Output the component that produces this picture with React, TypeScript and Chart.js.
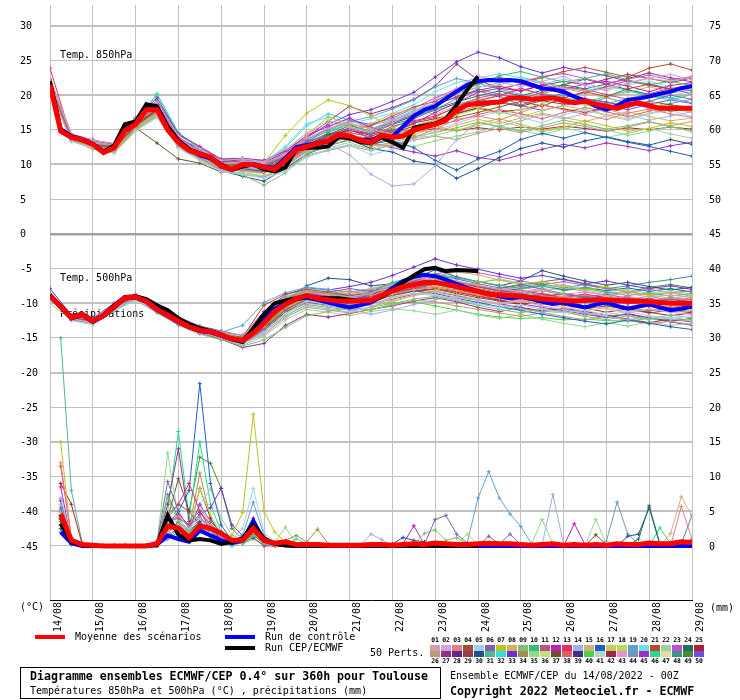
import React, { useEffect, useRef } from 'react';
import { Chart, registerables } from 'chart.js';
Chart.register(...registerables);

// ---------- axis / labels ----------
const DAY_LABELS = ['14/08','15/08','16/08','17/08','18/08','19/08','20/08','21/08','22/08','23/08','24/08','25/08','26/08','27/08','28/08','29/08'];
const LEFT_TICKS = [30,25,20,15,10,5,0,-5,-10,-15,-20,-25,-30,-35,-40,-45];
const RIGHT_TICKS = [75,70,65,60,55,50,45,40,35,30,25,20,15,10,5,0];
const PERT_COLORS = ['#d4a0a8','#d4a0e0','#e08088','#a05030','#a0d0f0','#8060b0','#c0c020','#d8b060','#80c070','#30c070',
 '#c05080','#c020b0','#e03060','#a0b0e0','#d0b080','#2060c0','#c8c860','#b0e050','#60a0d8','#70e0e8',
 '#c04830','#a0d0a0','#c050d0','#207060','#b02030',
 '#c09878','#903080','#602880','#904050','#205090','#50b890','#30e0e0','#7030d0','#a09050','#90d890',
 '#c0e080','#705030','#e06060','#403080','#50d040','#b0d8c8','#a02840','#e890d0','#7098b8','#a030c0',
 '#20e090','#e0e0a0','#409090','#508830','#7050e0'];

// ---------- 850 hPa (6-hourly from 0h) ----------
const T850_MEAN = [21.5,14.8,13.9,13.6,12.9,11.7,12.4,14.9,15.8,17.9,17.9,15.0,13.2,12.0,11.5,11.1,9.8,9.3,10.0,10.0,9.6,9.3,10.6,12.2,12.6,13.0,13.4,14.3,14.1,13.5,13.2,14.2,13.9,14.1,15.0,15.4,15.8,16.4,17.8,18.6,18.8,18.9,19.0,19.6,19.6,19.4,19.5,19.6,19.2,18.9,19.1,18.7,18.4,18.1,18.6,18.9,18.5,18.1,18.1,18.1,18.1];
const T850_CEP = [22.0,15.0,14.0,13.5,13.0,11.8,12.8,15.8,16.2,18.7,18.4,15.5,13.5,12.2,11.6,11.0,10.0,9.3,9.7,10.0,9.3,9.0,9.6,12.2,12.4,12.4,12.6,14.0,13.8,13.2,13.1,13.9,13.2,12.4,15.3,15.6,15.9,16.6,18.6,20.8,22.7];
const T850_CTRL = [21.7,15.1,14.1,13.7,13.0,11.9,12.5,15.2,16.0,18.2,18.0,15.2,13.4,12.1,11.3,10.9,9.7,9.2,9.8,10.1,9.7,9.5,10.9,12.5,12.8,13.1,13.3,14.0,13.9,13.6,13.5,14.2,14.0,15.5,17.0,17.9,18.4,19.5,20.5,21.5,22.0,22.2,22.1,22.2,22.0,21.5,21.0,20.8,20.5,19.8,19.2,18.4,17.9,18.5,19.3,19.5,19.8,20.2,20.5,21.0,21.3];

// 850 hPa members (12-hourly from 0h)
const T850_M01 = [22.0,14.2,13.3,12.8,16.2,18.5,13.8,11.9,10.1,10.4,10.2,11.5,13.8,15.2,16.0,15.1,16.4,17.3,18.8,20.1,21.2,21.5,22.3,21.8,21.0,20.6,20.9,21.7,22.4,22.0,22.6];
const T850_M02 = [22.4,14.4,13.5,13.0,16.6,19.0,14.2,12.3,10.6,10.8,10.4,12.2,14.5,16.0,15.3,14.8,16.0,17.5,19.4,21.0,22.8,21.9,21.2,22.0,22.7,21.4,20.6,21.8,22.5,23.0,22.2];
const T850_M03 = [21.0,13.6,12.6,12.0,15.4,17.6,12.8,11.0,9.4,9.2,8.8,9.9,12.0,13.8,14.5,13.0,12.6,13.9,15.1,16.5,17.0,16.4,17.5,18.6,17.9,17.2,16.5,17.4,18.0,17.3,16.8];
const T850_M04 = [21.3,13.9,12.9,12.4,15.6,17.8,13.2,11.6,9.9,9.9,9.6,10.5,12.7,14.0,13.6,12.8,13.9,14.6,15.9,16.8,17.5,18.3,19.1,18.4,19.6,20.5,19.8,20.9,21.6,20.8,21.4];
const T850_M05 = [20.5,13.3,12.4,11.6,14.8,16.9,12.4,10.6,9.0,8.6,8.0,9.0,11.0,12.2,12.8,11.4,12.2,13.6,14.8,16.0,16.9,17.6,16.8,16.0,17.2,17.9,17.0,16.4,17.3,17.8,16.9];
const T850_M06 = [21.8,14.1,13.6,12.6,16.8,18.2,13.6,12.4,10.6,10.2,9.8,11.2,13.4,14.0,15.2,14.4,15.8,16.6,17.9,19.5,20.6,19.8,18.6,19.4,20.3,19.5,19.0,18.2,19.1,20.0,19.4];
const T850_M07 = [21.0,13.7,12.5,11.9,15.0,17.4,12.9,11.4,9.8,9.5,10.2,14.2,17.4,19.3,18.5,17.0,15.4,14.2,15.6,14.8,15.9,16.6,15.8,14.9,15.4,16.3,15.6,14.8,15.2,16.0,15.5];
const T850_M08 = [21.8,14.1,13.1,12.7,16.0,18.2,13.4,11.8,10.2,10.2,9.9,11.4,14.1,16.9,15.8,15.2,14.4,15.0,14.6,15.7,16.5,15.9,16.7,17.4,16.8,16.2,17.0,17.6,16.9,16.3,16.7];
const T850_M09 = [20.8,13.5,12.2,11.8,15.2,17.0,12.7,10.9,9.2,8.5,7.0,8.8,11.6,12.8,13.5,12.6,13.2,14.0,14.6,15.3,16.1,15.4,14.8,15.6,16.4,15.8,15.1,15.6,16.2,15.4,14.9];
const T850_M10 = [21.6,14.0,13.2,12.7,16.0,18.6,13.4,11.6,10.2,9.8,9.4,10.8,13.0,14.6,15.8,14.6,15.2,16.8,18.2,20.4,21.5,22.8,23.4,22.6,21.9,22.4,23.1,22.2,21.5,22.0,21.4];
const T850_M11 = [21.4,13.9,13.0,12.5,15.9,18.1,13.5,11.8,10.0,10.3,9.9,11.0,12.8,13.2,14.0,13.5,14.9,16.2,16.8,18.4,19.6,20.2,19.5,20.4,21.2,20.8,20.1,19.4,20.2,21.0,20.6];
const T850_M12 = [22.2,14.3,13.4,12.9,16.4,18.8,13.9,12.0,10.4,10.7,10.5,11.9,14.2,15.5,16.7,15.3,14.6,15.9,17.5,18.9,20.4,21.0,20.6,21.5,20.8,21.6,22.0,21.3,20.5,21.4,21.8];
const T850_M13 = [23.9,13.8,12.9,12.3,15.6,17.7,13.1,11.3,9.7,9.9,9.5,10.3,12.4,13.6,14.6,14.0,15.5,16.3,17.0,18.2,19.2,19.9,21.0,20.1,19.6,20.4,21.2,22.1,21.4,20.9,21.5];
const T850_M14 = [21.1,13.6,12.6,12.1,15.3,17.3,12.8,11.1,9.4,9.6,9.2,10.1,12.1,13.0,11.4,8.6,6.9,7.2,9.8,13.6,16.1,15.5,16.3,17.2,16.6,17.3,18.0,17.1,16.4,17.0,17.6];
const T850_M15 = [21.0,13.5,12.5,12.0,15.1,17.1,12.8,11.0,9.4,9.0,8.8,10.0,12.6,13.5,14.7,15.9,17.3,18.0,17.2,18.5,19.3,20.0,20.8,20.2,21.0,20.3,19.6,20.4,21.2,20.5,19.9];
const T850_M16 = [21.7,14.1,13.1,12.6,15.9,17.8,13.3,11.5,9.8,9.4,9.0,10.4,12.5,13.8,14.5,12.9,13.5,12.4,10.6,9.2,10.8,11.9,13.6,14.5,13.8,14.6,13.9,13.2,12.6,11.9,11.2];
const T850_M17 = [21.2,13.7,12.8,12.2,15.4,17.4,12.9,11.2,9.5,9.4,9.0,10.2,12.3,13.4,14.3,13.6,14.8,15.7,16.4,17.6,18.3,17.6,16.9,17.8,18.5,17.9,17.2,16.6,17.4,18.1,17.5];
const T850_M18 = [20.9,13.5,12.3,11.9,15.1,17.2,12.6,10.8,9.3,9.0,8.7,11.9,14.6,16.4,15.5,14.4,13.9,15.2,15.8,17.1,18.0,17.3,17.9,18.8,19.4,18.6,17.9,18.5,19.1,18.3,17.6];
const T850_M19 = [21.5,14.0,13.1,12.5,15.9,18.2,13.5,11.7,10.1,10.2,9.8,11.0,13.3,14.9,16.2,16.9,18.0,19.3,21.2,22.4,21.7,20.9,20.1,19.3,20.0,19.4,18.8,19.5,20.2,19.6,18.9];
const T850_M20 = [21.9,14.2,13.4,12.8,16.3,18.9,14.0,12.1,10.5,10.6,10.3,12.6,15.9,16.8,15.9,16.6,17.4,18.6,20.5,21.8,22.4,23.1,22.5,21.6,22.3,21.7,20.9,21.5,22.0,21.2,20.8];
const T850_M21 = [21.5,14.0,13.0,12.4,15.7,18.0,13.3,11.7,10.0,10.1,9.7,10.6,12.6,13.9,14.8,15.6,17.0,18.3,19.1,20.8,21.6,22.4,21.8,22.5,23.4,24.0,23.3,22.6,23.9,24.5,23.6];
const T850_M22 = [20.6,13.4,12.4,11.7,14.9,16.8,12.5,10.7,9.1,8.8,8.4,9.6,11.8,12.4,13.2,12.1,12.9,13.8,14.2,15.0,15.6,16.2,15.5,14.7,15.3,14.6,13.9,14.5,15.2,14.4,13.8];
const T850_M23 = [21.7,14.1,13.2,12.6,16.2,18.7,13.8,12.0,10.4,10.5,10.1,11.6,13.6,15.1,16.3,15.8,16.7,18.1,19.6,20.9,22.1,22.6,21.9,22.7,23.1,22.4,21.7,22.3,22.9,22.2,22.7];
const T850_M24 = [21.2,13.8,12.8,12.3,15.5,17.5,13.0,11.2,9.6,9.3,9.1,10.2,12.3,14.2,15.3,14.7,15.9,17.0,18.0,19.0,19.9,20.6,19.9,20.7,21.5,20.9,21.6,20.8,20.1,20.7,21.3];
const T850_M25 = [21.9,14.2,13.3,12.7,16.1,18.4,13.7,11.9,10.3,10.5,10.0,11.3,13.2,14.4,14.9,14.2,14.8,16.0,16.6,17.4,18.1,17.6,17.9,18.6,18.0,17.5,18.2,18.8,18.3,17.7,18.0];
const T850_M26 = [20.8,13.4,12.3,11.8,14.9,16.8,12.4,10.6,9.0,8.5,8.2,9.2,11.2,12.0,12.7,12.0,12.8,13.5,14.1,13.6,14.5,15.2,14.6,15.3,16.0,15.5,14.8,15.4,16.1,15.6,16.2];
const T850_M27 = [22.3,14.4,13.5,13.0,16.7,19.6,14.4,12.6,10.8,10.9,10.6,12.0,14.0,16.2,18.4,17.3,18.2,19.4,21.3,24.5,22.2,20.9,21.6,20.8,21.5,22.3,21.6,22.4,23.2,22.5,21.9];
const T850_M29 = [21.4,13.9,13.0,12.5,15.8,18.0,13.4,11.6,9.9,10.0,9.7,10.7,12.8,14.3,15.6,14.8,16.1,17.2,18.5,19.8,20.7,21.3,20.6,21.4,22.0,21.5,22.3,23.0,22.4,21.8,22.5];
const T850_M30 = [21.0,13.6,12.5,12.0,15.2,17.1,12.6,10.8,9.1,8.3,7.6,9.4,11.5,12.7,13.6,12.3,11.8,10.5,10.0,8.0,9.4,11.0,12.3,13.1,12.5,13.4,14.0,13.3,12.8,13.6,12.9];
const T850_M32 = [21.9,14.3,13.4,12.9,16.4,20.0,14.5,12.3,10.6,10.6,10.4,12.4,15.6,17.3,16.4,15.6,16.5,17.8,19.2,20.3,21.1,21.8,22.6,21.9,21.2,20.6,21.3,20.7,20.0,19.6,20.3];
const T850_M33 = [22.1,14.3,13.4,12.9,16.5,19.2,14.3,12.4,10.7,10.6,10.3,11.7,13.9,15.8,17.2,17.9,19.1,20.4,22.6,24.8,26.2,25.4,24.1,23.2,24.0,23.4,22.8,22.0,21.6,20.9,20.2];
const T850_M35 = [20.7,13.4,12.3,11.8,15.0,16.9,12.5,10.7,9.2,8.7,8.3,9.5,11.4,12.1,12.9,12.3,13.1,12.6,13.4,14.1,14.7,15.6,14.9,14.3,15.1,15.8,15.0,14.2,14.8,15.5,14.7];
const T850_M37 = [21.3,13.8,12.7,12.2,15.3,13.1,10.8,10.2,8.9,9.3,9.0,10.0,12.2,13.4,14.1,13.8,14.6,15.5,16.4,17.3,18.2,18.9,18.4,19.2,18.7,19.5,19.0,18.4,19.1,18.6,18.2];
const T850_M38 = [21.1,13.6,12.6,12.1,15.2,17.2,12.7,11.0,9.3,9.1,8.9,9.8,11.9,13.1,13.9,13.2,14.2,15.0,15.6,16.3,17.2,17.9,17.3,16.6,17.5,18.2,17.6,16.9,17.7,18.4,17.8];
const T850_M42 = [21.6,14.0,13.1,12.6,16.0,18.3,13.6,11.7,10.0,10.1,9.8,10.9,12.9,14.0,14.9,14.4,15.0,14.7,15.2,14.9,15.3,15.0,15.4,15.1,15.5,15.2,14.8,15.3,15.0,15.4,15.1];
const T850_M44 = [21.4,13.9,12.9,12.5,15.8,17.9,13.6,11.7,10.0,10.1,9.9,11.1,13.1,15.4,16.6,15.0,16.3,17.6,18.9,19.6,20.9,20.1,19.3,20.0,19.4,18.7,19.6,18.9,18.1,18.8,19.4];
const T850_M45 = [21.3,13.8,12.8,12.3,15.5,17.6,13.1,11.3,9.6,9.5,9.2,10.4,12.2,13.3,14.0,13.1,12.4,11.8,11.2,12.0,11.0,10.6,11.4,12.2,12.9,12.4,13.1,12.6,12.0,12.7,13.2];
const T850_M46 = [22.0,14.3,13.2,12.7,16.2,20.2,14.6,12.2,10.3,10.4,10.1,11.4,13.5,14.8,15.9,15.2,16.0,16.9,17.8,18.7,19.4,18.8,19.6,20.3,19.7,19.0,19.8,20.6,19.9,19.3,20.1];
const T850_M50 = [21.6,14.0,13.1,12.6,16.1,18.3,13.5,11.6,9.9,10.0,9.6,10.9,12.9,14.1,15.1,13.7,14.3,15.1,16.1,17.5,18.4,19.1,18.5,17.8,18.5,19.2,18.6,17.9,18.7,19.3,18.8];

// ---------- 500 hPa ----------
const T500_MEAN = [-9.0,-10.5,-12.1,-11.6,-12.6,-11.8,-10.5,-9.2,-9.1,-9.7,-10.9,-11.7,-12.6,-13.4,-13.9,-14.1,-14.6,-15.1,-15.4,-14.3,-12.9,-11.2,-10.2,-9.3,-8.9,-9.3,-9.5,-9.7,-9.7,-9.7,-9.6,-8.9,-8.2,-7.6,-7.3,-7.0,-7.0,-7.3,-7.6,-8.0,-8.3,-8.7,-8.8,-8.9,-9.0,-9.2,-9.4,-9.5,-9.6,-9.7,-9.6,-9.5,-9.5,-9.6,-9.7,-9.7,-9.8,-9.9,-10.0,-10.0,-10.0];
const T500_CEP = [-8.8,-10.4,-12.0,-11.5,-12.5,-11.7,-10.3,-9.1,-9.0,-9.4,-10.3,-11.0,-12.2,-13.0,-13.6,-14.0,-14.5,-15.2,-15.6,-13.6,-11.6,-10.0,-9.6,-9.3,-9.1,-9.2,-9.3,-9.3,-9.5,-9.7,-9.6,-9.1,-8.2,-7.0,-6.0,-5.1,-4.9,-5.4,-5.2,-5.3,-5.4];
const T500_CTRL = [-8.9,-10.6,-12.2,-11.7,-12.7,-11.9,-10.6,-9.3,-9.2,-9.8,-11.0,-11.8,-12.7,-13.5,-14.0,-14.2,-14.7,-15.2,-15.3,-13.9,-12.2,-10.8,-10.0,-9.4,-9.2,-9.5,-9.9,-10.3,-10.6,-10.3,-9.9,-9.0,-7.8,-6.8,-6.2,-5.9,-6.1,-6.6,-7.2,-7.8,-8.3,-8.6,-9.0,-9.3,-9.1,-9.4,-9.8,-10.1,-9.9,-10.3,-10.6,-10.2,-9.9,-10.4,-10.8,-10.5,-10.2,-10.6,-11.0,-10.8,-10.5];

const T500_M01 = [-8.8,-11.9,-12.4,-10.3,-8.9,-10.6,-12.3,-13.6,-14.4,-15.1,-12.2,-9.6,-8.4,-8.8,-9.1,-8.6,-7.4,-6.5,-6.2,-6.8,-7.4,-8.0,-8.3,-8.1,-8.7,-8.4,-8.9,-8.6,-9.1,-8.8,-9.2];
const T500_M02 = [-9.2,-12.3,-12.8,-10.8,-9.3,-11.2,-12.9,-14.2,-14.9,-15.8,-14.6,-12.1,-10.4,-10.8,-11.3,-10.5,-9.6,-8.9,-8.4,-9.2,-9.6,-10.1,-9.7,-10.4,-10.9,-10.3,-10.8,-11.4,-10.9,-11.3,-11.6];
const T500_M03 = [-8.6,-11.8,-12.3,-10.1,-8.8,-10.5,-12.1,-13.4,-14.2,-14.6,-11.4,-9.1,-8.2,-8.6,-8.2,-8.9,-7.9,-7.1,-6.8,-7.0,-7.9,-8.6,-8.2,-8.9,-9.3,-8.8,-9.4,-9.0,-9.6,-9.2,-9.5];
const T500_M04 = [-9.0,-12.1,-12.6,-10.5,-9.1,-10.9,-12.5,-13.8,-14.6,-14.9,-10.3,-8.7,-8.0,-8.4,-8.9,-8.6,-8.0,-7.3,-6.8,-7.4,-8.1,-8.7,-9.2,-8.8,-9.3,-9.8,-9.4,-9.9,-10.4,-10.0,-10.6];
const T500_M05 = [-9.4,-12.5,-13.0,-11.0,-9.5,-11.1,-12.8,-14.0,-15.0,-16.0,-14.2,-11.5,-9.7,-10.2,-10.6,-10.2,-9.3,-8.6,-8.8,-9.4,-10.1,-10.6,-10.2,-10.9,-11.4,-11.0,-11.7,-11.2,-11.8,-12.2,-11.8];
const T500_M06 = [-8.9,-12.0,-12.5,-10.4,-9.0,-10.8,-12.5,-13.7,-14.5,-15.3,-13.0,-10.1,-8.6,-8.4,-7.9,-8.3,-7.6,-6.8,-6.0,-6.5,-7.2,-7.8,-7.3,-8.0,-8.6,-9.1,-8.7,-9.3,-9.8,-9.4,-9.9];
const T500_M07 = [-9.0,-12.2,-12.6,-10.6,-9.2,-11.0,-12.7,-13.9,-14.7,-15.5,-13.4,-10.6,-9.3,-9.6,-9.9,-10.4,-9.8,-8.9,-8.1,-7.5,-7.0,-6.6,-7.2,-6.9,-7.5,-8.1,-7.6,-8.3,-8.8,-8.4,-8.9];
const T500_M08 = [-8.8,-11.9,-12.4,-10.3,-8.9,-10.7,-12.3,-13.6,-14.4,-15.0,-12.6,-10.2,-9.0,-9.5,-9.9,-9.4,-8.7,-8.1,-7.6,-8.2,-8.8,-9.3,-8.9,-9.4,-9.0,-9.5,-9.1,-9.6,-10.1,-9.7,-10.0];
const T500_M09 = [-9.1,-12.2,-12.7,-10.7,-9.2,-11.1,-12.6,-14.1,-15.2,-16.2,-15.3,-13.5,-11.8,-11.2,-10.6,-11.0,-10.1,-9.4,-9.0,-9.6,-10.3,-10.9,-11.4,-10.8,-11.3,-11.9,-12.4,-11.8,-12.3,-11.7,-12.1];
const T500_M10 = [-8.7,-11.8,-12.3,-10.2,-8.8,-10.6,-12.2,-13.5,-14.3,-15.0,-12.0,-9.4,-8.3,-8.7,-8.9,-8.4,-7.0,-6.2,-5.8,-6.3,-6.9,-7.4,-7.9,-7.5,-8.2,-7.8,-8.4,-8.9,-8.5,-9.0,-8.6];
const T500_M11 = [-9.3,-12.4,-12.9,-10.9,-9.4,-11.3,-13.1,-14.3,-15.1,-15.9,-13.8,-10.9,-9.5,-9.9,-10.3,-9.8,-8.8,-8.0,-7.7,-8.3,-8.9,-9.4,-9.0,-9.6,-10.1,-9.7,-10.2,-9.8,-10.4,-10.9,-10.5];
const T500_M12 = [-8.9,-12.1,-12.5,-10.4,-9.0,-10.8,-12.4,-13.8,-14.6,-15.3,-12.6,-9.9,-8.7,-9.1,-9.4,-9.0,-8.1,-7.3,-6.9,-7.4,-8.0,-8.5,-8.1,-8.7,-9.2,-8.8,-9.3,-9.9,-9.4,-9.8,-10.2];
const T500_M13 = [-9.0,-12.1,-12.6,-10.5,-9.1,-10.9,-12.6,-13.9,-14.6,-15.4,-12.8,-10.3,-8.9,-9.3,-9.8,-9.2,-8.4,-7.8,-7.2,-7.0,-7.6,-8.2,-8.7,-9.1,-8.6,-9.2,-9.7,-10.1,-9.6,-10.0,-10.4];
const T500_M14 = [-9.1,-12.3,-12.8,-10.7,-9.3,-11.0,-12.8,-14.0,-14.8,-15.7,-14.0,-11.5,-10.0,-10.4,-10.9,-11.6,-11.0,-10.2,-9.5,-9.1,-9.6,-10.2,-10.8,-11.3,-10.9,-11.4,-11.9,-12.4,-11.9,-12.3,-12.6];
const T500_M15 = [-8.9,-12.0,-12.5,-10.4,-9.0,-10.8,-12.4,-13.7,-14.5,-15.2,-12.6,-9.9,-8.5,-8.8,-8.5,-7.9,-7.3,-6.6,-6.1,-5.5,-5.9,-6.7,-7.3,-7.9,-7.5,-8.1,-8.6,-8.3,-8.8,-9.3,-8.9];
const T500_M16 = [-9.2,-12.3,-12.8,-10.7,-9.3,-11.0,-12.8,-14.0,-14.8,-15.6,-13.6,-11.0,-9.4,-9.8,-10.0,-9.5,-8.6,-8.2,-8.6,-9.3,-9.9,-10.5,-11.0,-11.6,-12.1,-12.6,-13.0,-12.4,-12.9,-13.4,-13.8];
const T500_M17 = [-9.2,-12.3,-12.8,-10.8,-9.3,-11.1,-12.8,-14.1,-14.9,-15.7,-13.7,-11.1,-9.6,-10.0,-10.5,-10.0,-9.2,-8.6,-8.3,-8.8,-9.5,-10.0,-9.6,-10.1,-10.6,-11.1,-10.6,-11.2,-10.8,-11.3,-11.0];
const T500_M18 = [-8.8,-11.9,-12.4,-10.3,-8.9,-10.7,-12.3,-13.6,-14.3,-15.0,-11.7,-9.2,-8.0,-8.6,-9.0,-8.5,-7.7,-7.0,-6.6,-7.2,-7.8,-8.4,-8.9,-8.5,-9.0,-9.5,-9.1,-9.6,-10.1,-9.7,-10.1];
const T500_M19 = [-8.7,-11.8,-12.3,-10.2,-8.8,-10.6,-12.2,-13.5,-14.2,-13.2,-9.9,-8.5,-7.7,-8.0,-8.4,-7.9,-7.2,-6.6,-6.2,-6.8,-7.5,-8.0,-8.5,-9.0,-8.6,-9.1,-9.6,-9.2,-9.7,-9.3,-9.8];
const T500_M20 = [-8.7,-11.9,-12.4,-10.2,-8.8,-10.5,-12.1,-13.4,-14.1,-14.8,-11.6,-8.9,-7.9,-8.2,-8.6,-8.0,-7.1,-6.3,-5.9,-6.4,-7.0,-6.5,-7.1,-7.7,-7.3,-7.9,-8.4,-8.0,-8.6,-8.2,-8.7];
const T500_M21 = [-9.1,-12.2,-12.7,-10.6,-9.2,-11.0,-12.7,-14.0,-14.8,-15.6,-13.2,-10.5,-9.1,-9.5,-9.9,-9.4,-8.5,-7.6,-7.1,-7.7,-8.4,-9.0,-9.6,-10.2,-9.8,-10.4,-10.0,-10.6,-11.1,-10.7,-11.2];
const T500_M22 = [-9.0,-12.2,-12.7,-10.6,-9.2,-11.0,-12.6,-13.9,-14.7,-15.5,-13.3,-10.7,-9.3,-9.7,-10.2,-9.7,-9.1,-8.6,-8.9,-9.5,-10.0,-10.6,-11.1,-11.6,-11.2,-11.8,-11.3,-11.9,-12.4,-12.0,-12.5];
const T500_M23 = [-8.8,-11.9,-12.4,-10.3,-8.9,-10.6,-12.3,-13.6,-14.3,-15.0,-12.3,-9.7,-8.6,-9.0,-8.6,-8.1,-7.3,-6.5,-5.8,-5.2,-5.6,-6.2,-6.8,-7.3,-6.9,-7.4,-7.9,-8.4,-8.0,-8.5,-8.2];
const T500_M24 = [-9.0,-12.0,-12.5,-10.5,-9.1,-10.9,-12.5,-13.8,-14.5,-15.2,-12.4,-9.8,-8.6,-9.0,-9.5,-8.8,-7.9,-7.2,-6.7,-7.1,-7.7,-8.3,-7.9,-7.4,-8.1,-7.7,-8.2,-7.8,-8.3,-7.9,-8.4];
const T500_M25 = [-9.1,-12.2,-12.7,-10.6,-9.2,-11.0,-12.7,-14.0,-14.8,-15.6,-13.4,-10.7,-9.3,-9.7,-10.1,-9.6,-8.8,-8.2,-7.9,-8.4,-9.0,-9.6,-10.1,-9.7,-10.2,-10.7,-11.3,-10.8,-11.3,-11.8,-11.4];
const T500_M26 = [-9.3,-12.4,-12.9,-10.9,-9.4,-11.2,-13.0,-14.2,-15.0,-15.8,-14.4,-12.0,-10.6,-11.0,-11.4,-10.9,-10.3,-9.6,-9.8,-10.4,-10.9,-11.4,-11.9,-11.4,-11.9,-12.4,-11.9,-12.5,-13.0,-12.6,-13.1];
const T500_M27 = [-9.3,-12.4,-12.9,-10.9,-9.4,-11.2,-13.0,-14.3,-15.2,-16.4,-15.8,-13.2,-11.6,-12.0,-11.5,-10.9,-10.4,-9.7,-9.2,-9.8,-10.6,-11.2,-10.7,-11.3,-10.8,-11.4,-12.0,-11.5,-12.1,-12.6,-12.2];
const T500_M29 = [-8.9,-12.0,-12.5,-10.4,-9.0,-10.8,-12.4,-13.7,-14.5,-15.2,-12.8,-10.2,-8.8,-9.2,-9.6,-9.1,-8.2,-7.4,-6.8,-7.3,-7.9,-8.5,-9.0,-8.6,-9.1,-8.7,-9.2,-9.7,-9.3,-9.8,-9.4];
const T500_M30 = [-9.0,-12.1,-12.6,-10.5,-9.1,-10.9,-12.5,-13.7,-14.4,-15.2,-12.5,-9.6,-7.5,-6.4,-6.6,-7.5,-7.2,-6.4,-5.2,-6.2,-6.9,-7.5,-6.8,-5.3,-6.1,-6.8,-7.4,-7.0,-7.6,-8.1,-7.7];
const T500_M33 = [-7.9,-11.7,-12.2,-10.0,-8.7,-10.4,-12.0,-13.3,-14.0,-14.7,-11.2,-8.8,-7.8,-8.1,-7.6,-7.0,-6.0,-4.8,-3.6,-4.5,-5.1,-5.8,-6.4,-6.0,-6.6,-7.2,-6.8,-7.4,-7.9,-7.5,-8.0];
const T500_M35 = [-10.0,-12.5,-13.1,-11.1,-9.6,-11.4,-13.2,-14.5,-15.3,-16.1,-14.8,-12.4,-10.9,-11.3,-11.8,-11.2,-10.8,-11.1,-11.6,-11.0,-11.7,-12.2,-11.6,-12.3,-12.9,-13.4,-12.8,-13.3,-12.7,-13.2,-12.9];
const T500_M37 = [-9.1,-12.3,-12.8,-10.6,-9.3,-11.1,-12.9,-14.1,-14.9,-15.7,-13.9,-11.3,-9.9,-10.3,-10.1,-9.6,-8.9,-8.3,-8.0,-8.6,-9.2,-9.7,-10.2,-9.8,-10.3,-10.8,-10.4,-10.9,-11.4,-11.0,-11.4];
const T500_M38 = [-9.0,-12.1,-12.6,-10.5,-9.1,-10.9,-12.5,-13.8,-14.6,-15.4,-13.0,-10.4,-9.1,-9.6,-10.0,-9.5,-8.7,-8.0,-7.6,-8.1,-8.7,-9.3,-9.8,-9.4,-9.9,-10.4,-10.0,-10.5,-10.1,-10.6,-10.2];
const T500_M40 = [-9.2,-12.4,-12.9,-10.8,-9.4,-11.2,-12.9,-14.2,-15.0,-15.9,-14.1,-11.8,-10.2,-10.6,-11.0,-10.6,-10.0,-9.8,-10.4,-11.0,-11.6,-12.0,-12.2,-12.1,-12.4,-12.3,-12.5,-12.6,-12.2,-12.5,-12.3];
const T500_M42 = [-9.2,-12.3,-12.8,-10.7,-9.3,-11.1,-12.8,-14.1,-14.9,-15.7,-13.7,-11.2,-9.7,-10.1,-10.6,-10.1,-9.4,-8.7,-8.3,-8.9,-9.5,-10.1,-10.6,-11.1,-10.7,-11.2,-11.7,-12.3,-12.8,-12.3,-12.7];
const T500_M43 = [-8.7,-11.8,-12.3,-10.2,-8.8,-10.5,-12.2,-13.5,-14.2,-14.9,-11.9,-9.3,-8.1,-8.5,-8.8,-8.3,-7.5,-6.8,-6.4,-6.9,-7.5,-8.1,-7.7,-8.2,-7.8,-8.3,-8.8,-8.4,-8.9,-8.5,-9.0];
const T500_M44 = [-8.8,-12.0,-12.4,-10.3,-8.9,-10.7,-12.4,-13.7,-14.5,-15.2,-12.1,-9.5,-8.3,-8.7,-9.2,-8.7,-7.8,-7.0,-6.3,-6.9,-7.5,-8.1,-8.6,-8.2,-8.8,-9.3,-8.9,-9.5,-9.0,-9.6,-9.2];
const T500_M45 = [-9.1,-12.2,-12.7,-10.6,-9.2,-11.0,-12.6,-14.0,-14.8,-15.6,-13.3,-10.6,-9.2,-9.6,-10.0,-9.5,-8.6,-8.0,-7.6,-8.2,-8.9,-9.5,-10.1,-10.6,-11.1,-11.6,-12.1,-11.6,-12.2,-12.7,-13.2];
const T500_M46 = [-9.0,-12.1,-12.6,-10.5,-9.1,-10.9,-12.5,-13.9,-14.7,-15.5,-13.1,-10.4,-9.0,-9.4,-9.7,-9.2,-8.3,-7.5,-7.0,-7.5,-8.0,-8.7,-9.3,-8.9,-9.4,-9.9,-10.3,-9.8,-10.3,-10.7,-10.3];
const T500_M48 = [-8.9,-12.0,-12.5,-10.4,-9.0,-10.8,-12.4,-13.7,-14.4,-15.1,-12.3,-9.7,-8.5,-8.9,-9.2,-8.7,-7.5,-6.8,-6.5,-7.1,-7.7,-8.1,-7.6,-7.2,-7.8,-7.3,-7.9,-7.5,-7.0,-6.6,-6.1];
const T500_M49 = [-9.1,-12.2,-12.7,-10.6,-9.2,-11.0,-12.6,-14.0,-14.8,-15.6,-13.5,-10.8,-9.2,-9.6,-10.0,-9.6,-8.5,-7.9,-7.3,-7.9,-8.5,-7.9,-7.4,-6.9,-6.5,-7.2,-7.8,-8.4,-7.7,-7.3,-7.8];
const T500_M50 = [-8.9,-12.0,-12.5,-10.4,-9.0,-10.8,-12.4,-13.7,-14.5,-15.3,-12.9,-10.2,-8.8,-9.2,-9.6,-9.1,-8.2,-7.6,-7.2,-7.8,-8.4,-8.9,-8.5,-9.0,-9.5,-9.1,-9.6,-9.2,-9.7,-10.1,-9.7];

// ---------- precipitation (mm, 6-hourly from 6h) ----------
const P_MEAN = [4.6,0.8,0.2,0.1,0,0,0,0,0,0.3,2.8,2.6, 1.2,2.9,2.5,1.8,0.8,0.8,2.5,0.8,0.4,0.6,0.2,0.2, 0.2,0.1,0.1,0.1,0.1,0.2,0.2,0.1,0.2,0.3,0.2,0.4, 0.3,0.2,0.2,0.3,0.4,0.3,0.3,0.2,0.1,0.2,0.3,0.1, 0.2,0.1,0.2,0.1,0.3,0.2,0.2,0.4,0.3,0.3,0.6,0.5];
const P_CEP = [3.2,0.6,0.1,0,0,0,0,0,0,0.1,4.4,1.6, 0.8,1.0,0.8,0.3,0.6,1.1,3.0,1.1,0.3,0.1,0,0, 0,0,0,0,0,0,0,0,0,0,0,0, 0,0,0,0];
const P_CTRL = [2.0,0.4,0,0,0,0,0,0,0,0.2,1.5,1.0, 0.6,2.2,1.5,0.8,0.4,0.8,3.6,0.8,0.3,0.1,0,0, 0,0,0,0,0,0,0,0,0,0,0,0, 0,0,0,0,0,0,0,0,0,0,0,0, 0,0,0,0,0,0,0,0,0,0,0,0];
const P_M03 = [12.0,1.0,0.2,0,0,0,0,0,0,0.2,3.5,4.2, 2.8,4.2,2.6,1.2,0.4,0.9,3.2,0.6,0,0,0,0, 0,0,0,0,0,0,0,0,0,0,0,0, 0,0,0,0,0,0,0,0,0,0,0,0, 0,0,0,0,0,0,0,0,0,0,5.7,1.0];
const P_M05 = [7.0,0.8,0,0,0,0,0,0,0,0.2,2.0,3.0, 2.5,4.0,2.0,1.5,1.0,2.5,8.3,2.0,0.5,0,0,0, 0,0,0,0,0,0,0,0,0,0,0,0, 0,0,0,0,0,0,0,0,0,0,0,0, 0,0,0,0,0,0,0,0,0,0,0,0];
const P_M06 = [5.5,0.6,0,0,0,0,0,0,0,0.5,9.3,5.0, 2.5,6.0,3.5,2.0,0.8,1.0,2.5,0.5,0,0,0,0, 0,0,0,0,0,0,0,0,0,0,0.3,3.8, 4.4,1.7,0.4,0,1.4,0.3,1.7,0.2,0,0,0,0, 0,0,0,0,0,0,0,0,0,0,0,0];
const P_M07 = [15.0,0.8,0,0,0,0,0,0,0,0,2.0,1.0, 0.5,2.5,1.5,0.8,1.5,4.8,19.0,5.0,2.0,0.5,0,0, 0,0,0,0,0,0,0,0,0,0,0,0, 0,0,0,0,0,0,0,0,0,0,0,0, 0,0,0,0,0,0,0,0,0,0,0,0];
const P_M09 = [5.0,0.5,0,0,0,0,0,0,0,0.5,7.0,3.5, 2.0,4.0,3.0,1.0,0.5,0.5,1.5,0.3,0,0,0,0, 0,0,0,0,0,0,0,0,0,0.3,1.8,2.3, 0.8,1.2,0.3,0,0,0,0,0,0,0,0,0, 0,0,0,0,0,0,0,0,0,0,0,0];
const P_M12 = [8.5,0.6,0,0,0,0,0,0,0,0.3,3.0,4.5, 3.0,4.0,2.5,1.0,0.5,0.8,4.0,0.8,0,0,0,0, 0,0,0,0,0,0,0,0,0.3,2.9,0.2,0, 0,0,0,0,0,0,0,0,0,0,0,0, 3.2,0.2,0,0,0,0,0,0,0,0,0,0];
const P_M13 = [11.5,1.2,0.2,0,0,0,0,0,0,0.3,4.5,6.0, 9.0,5.0,3.0,2.0,0.5,1.0,3.5,0.8,0.2,0,0,0, 0,0,0,0,0,0,0,0,0,0,0,0, 0,0,0,0,0,0,0,0,0,0,0,0, 0,0,0,0,0,0,0,0,0,0,0,0];
const P_M14 = [6.0,0.5,0,0,0,0,0,0,0,0.2,2.5,3.0, 2.0,5.8,3.0,1.0,0.5,1.0,2.0,0.5,0,0,0,0.5, 0.3,0,0,0,0,1.7,0.9,0,0,0,0,0, 0,0,0,0,0,0,0,0,0,0.2,7.4,0.2, 0,0,0,0,0,0,0,0,0,0,0,0];
const P_M15 = [4.2,0.3,0,0,0,0,0,0,0,0,1.8,2.2, 1.5,2.8,1.8,0.9,0.3,0.6,2.4,0.4,0,0,0,0, 0,0,0,0,0,0,0,0,0,0,0,0, 0,0,0,0,0,0,0,0,0,0,0,0, 0,0,0,0,0,0,0,0,0,1.8,7.1,4.3];
const P_M16 = [2.5,0.2,0,0,0,0,0,0,0,0.2,3.0,5.0, 8.0,23.4,9.0,3.0,0.8,0.5,2.0,0.5,0,0,0,0, 0,0,0,0,0,0,0,0,0,0,0,0, 0,0,0,0,0,0,0,0,0,0,0,0, 0,0,0,0,0,0,0,0,0,0,0,0];
const P_M18 = [4.8,0.4,0,0,0,0,0,0,0,0.2,3.0,2.5, 2.0,8.2,4.5,1.8,0.6,1.0,2.0,0.4,0,0,0,0, 0,0,0,0,0,0,0,0,0,0,0,0, 0,0.3,1.7,0.2,0,0,0,0,0,0,0,0, 0,0,0,0,0,0,0,0,0,0,0,0];
const P_M19 = [5.0,0.4,0,0,0,0,0,0,0,0,1.0,2.0, 1.5,3.0,1.5,1.0,0.5,1.5,6.3,1.5,0.3,0,0,0, 0,0,0,0,0,0,0,0,0,0,0,0, 0,0,0.5,6.9,10.7,6.9,4.6,2.8,0.3,0,0,0, 0,0,0,0,0,0,0,0,0,0,0,0];
const P_M22 = [2.0,0.2,0,0,0,0,0,0,0,0.8,5.0,3.0, 2.0,6.0,8.2,4.0,1.5,1.0,2.0,1.0,0.3,0,0,0, 0,0,0,0,0,0,0,0,0,0,0,0, 0,0,0,0,0,0,0,0,0,0,0,0, 0,0,3.8,0.3,0,0,0,0,0,0,0,0];
const P_M24 = [3.8,0.3,0,0,0,0,0,0,0,0.2,2.5,3.2, 1.5,2.5,1.8,0.8,0.3,0.5,1.6,0.3,0,0,0,0, 0,0,0,0,0,0,0,0,0,0,0,0, 0,0,0,0,0,0,0,0,0,0,0,0, 0,0,0,0,0,0,1.0,5.8,0.3,0,0,1.0];
const P_M25 = [9.0,6.0,0.3,0,0,0,0,0,0,0,2.0,3.5, 2.0,8.3,4.0,1.5,0.5,0.8,2.5,0.5,0,0,0,0, 0,0,0,0,0,0,0,0,0,0,0,0, 0,0,0,0,0,0,0,0,0,0,0,0, 0,0,0,0,0,0,0,0,0,0,0,0.5];
const P_M27 = [4.0,0.4,0,0,0,0,0,0,0,0.2,6.0,14.0, 3.5,5.0,2.5,1.0,0.3,0.5,1.2,0,0,0,0,0, 0,0,0,0,0,0,0,0,0,0,0,0, 0,0,0,0,0,0,0,0,0,0,0,0, 0,0,0,0,0,0,0,0,0,0,0,0];
const P_M30 = [4.0,0.3,0,0,0,0,0,0,0,0,1.5,2.5, 2.0,3.5,2.0,1.0,0.3,0.6,2.2,0.4,0,0,0,0, 0,0,0,0,0,0,0,0.3,1.2,0.8,0.6,0, 0,0,0,0,0,0,0,0,0,0,0,0, 0,0,0,0,0,1.4,1.7,5.5,0.2,0,0,0];
const P_M31 = [30.0,8.0,0.5,0,0,0,0,0,0,0,1.0,2.5, 1.5,3.0,1.0,0.5,0,0.5,2.0,0.5,0,0,0,0, 0,0,0,0,0,0,0,0,0,0,0,0, 0,0,0,0,0,0,0,0,0,0,0,0, 0,0,0,0,0,0,0,0,0,0,0,0];
const P_M33 = [6.5,0.5,0,0,0,0,0,0,0,0.3,3.5,4.0, 3.0,4.5,5.5,8.3,3.0,1.5,3.0,1.0,0.3,0,0,0, 0,0,0,0,0,0,0,0,0,0,0,0, 0,0,0,0,0,0,0,0,0,0,0,0, 0,0,0,0,0,0,0,0,0,0,0,0];
const P_M34 = [3.0,0.3,0,0,0,0,0,0,0,0.2,2.0,3.0, 2.5,10.5,4.0,1.5,0.5,0.6,1.8,0.5,0.2,0.8,1.5,0.6, 2.4,0.3,0,0,0,0,0,0,0,0,0,0, 0,0,0,0,0,0,0,0,0,0,0,0, 0,0,0,0,0,0,0,0,0,0,0,0];
const P_M35 = [4.5,0.5,0,0,0,0,0,0,0,0.5,13.4,4.0, 2.0,3.0,2.0,1.0,0.5,0.8,1.5,1.2,0.5,2.7,0.3,0, 0,0,0,0,0,0,0,0,0,0,0,0, 0,0,0,0,0,0,0,0,0.3,3.8,0.3,0, 0,0,0,0,0,0,0,0,0,0,0,0];
const P_M37 = [3.5,0.3,0,0,0,0,0,0,0,0.3,4.0,9.7, 5.0,3.0,2.0,1.5,0.5,0.8,2.0,0.5,0,0,0,0, 0,0,0,0,0,0,0,0,0,0,0,0, 0,0,0,0,0,0,0,0,0,0,0,0, 0,0,1.6,0.2,0,0,0,0,0,0,0,0];
const P_M44 = [5.2,0.4,0,0,0,0,0,0,0,0,2.0,3.0, 2.5,3.0,2.0,1.0,0.5,1.0,3.0,0.6,0,0,0,0, 0,0,0,0,0,0,0,0,0,0,0,0, 0,0,0,0,0,0,0,0,0,0,0,0, 0,0,0,0.7,6.3,1.7,0.3,0,0,0,0,0];
const P_M46 = [3.0,0.3,0,0,0,0,0,0,0,0.3,5.0,16.5, 4.0,15.0,6.0,2.0,0.5,0.3,1.0,0.2,0,0,1.0,0.3, 0,0,0,0,0,0,0,0,0,0,0,0, 0,0,0,0,0,0,0,0,0,0,0,0, 0,0,0,0,0,0,0,0,2.6,0.3,0,0];
const P_M48 = [6.8,0.5,0,0,0,0,0,0,0,0.3,7.4,4.0, 2.0,3.5,2.0,1.0,0.4,0.8,2.8,0.5,0,0,0,0, 0,0,0,0,0,0,0,0,0,0,0,0, 0,0,0,0,0,0,0,0,0,0,0,0, 0,0,0,0,0,0,0,0,0,0.5,0.3,4.4];
const P_M49 = [2.0,0.3,0,0,0,0,0,0,0,0.5,4.0,6.0, 5.0,12.8,11.9,8.3,2.5,1.0,1.5,0.5,0,0,0,0, 0,0,0,0,0,0,0,0,0,0,0,0, 0,0,0,0,0,0,0,0,0,0,0,0, 0,0,0,0,0,0,0,0,0,0,0,0];

const T850_MEMBERS: [number, number[]][] = [[1,T850_M01],[2,T850_M02],[3,T850_M03],[4,T850_M04],[5,T850_M05],[6,T850_M06],[7,T850_M07],[8,T850_M08],[9,T850_M09],[10,T850_M10],[11,T850_M11],[12,T850_M12],[13,T850_M13],[14,T850_M14],[15,T850_M15],[16,T850_M16],[17,T850_M17],[18,T850_M18],[19,T850_M19],[20,T850_M20],[21,T850_M21],[22,T850_M22],[23,T850_M23],[24,T850_M24],[25,T850_M25],[26,T850_M26],[27,T850_M27],[29,T850_M29],[30,T850_M30],[32,T850_M32],[33,T850_M33],[35,T850_M35],[37,T850_M37],[38,T850_M38],[42,T850_M42],[44,T850_M44],[45,T850_M45],[46,T850_M46],[50,T850_M50]];
const T500_MEMBERS: [number, number[]][] = [[1,T500_M01],[2,T500_M02],[3,T500_M03],[4,T500_M04],[5,T500_M05],[6,T500_M06],[7,T500_M07],[8,T500_M08],[9,T500_M09],[10,T500_M10],[11,T500_M11],[12,T500_M12],[13,T500_M13],[14,T500_M14],[15,T500_M15],[16,T500_M16],[17,T500_M17],[18,T500_M18],[19,T500_M19],[20,T500_M20],[21,T500_M21],[22,T500_M22],[23,T500_M23],[24,T500_M24],[25,T500_M25],[26,T500_M26],[27,T500_M27],[29,T500_M29],[30,T500_M30],[33,T500_M33],[35,T500_M35],[37,T500_M37],[38,T500_M38],[40,T500_M40],[42,T500_M42],[43,T500_M43],[44,T500_M44],[45,T500_M45],[46,T500_M46],[48,T500_M48],[49,T500_M49],[50,T500_M50]];
const PRECIP_MEMBERS: [number, number[]][] = [[3,P_M03],[5,P_M05],[6,P_M06],[7,P_M07],[9,P_M09],[12,P_M12],[13,P_M13],[14,P_M14],[15,P_M15],[16,P_M16],[18,P_M18],[19,P_M19],[22,P_M22],[24,P_M24],[25,P_M25],[27,P_M27],[30,P_M30],[31,P_M31],[33,P_M33],[34,P_M34],[35,P_M35],[37,P_M37],[44,P_M44],[46,P_M46],[48,P_M48],[49,P_M49]];

const FONT = '10px "DejaVu Sans Mono", monospace';
const BOLD = 'bold 11.6px "DejaVu Sans Mono", monospace';
const TINY = 'bold 6.4px "DejaVu Sans Mono", monospace';

function pts(arr: number[], step: number, start: number) {
  return arr.map((v, i) => ({ x: start + i * step, y: v }));
}

const textPlugin = {
  id: 'meteoText',
  beforeDatasetsDraw(chart: any) {
    const ctx = chart.ctx;
    ctx.save();
    ctx.font = FONT;
    ctx.fillStyle = '#000';
    ctx.textAlign = 'left';
    ctx.textBaseline = 'middle';
    ctx.fillText('Temp. 850hPa', 60, 55);
    ctx.fillText('Temp. 500hPa', 60, 278);
    ctx.fillText('Précipitations', 60, 314);
    ctx.restore();
  },
  afterDraw(chart: any) {
    const ctx = chart.ctx;
    const ys = chart.scales.y, y1 = chart.scales.y1, xs = chart.scales.x;
    ctx.save();
    ctx.fillStyle = '#000';
    ctx.font = FONT;
    ctx.textBaseline = 'middle';
    ctx.textAlign = 'left';
    LEFT_TICKS.forEach(v => ctx.fillText(String(v), 20, ys.getPixelForValue(v) + 1));
    RIGHT_TICKS.forEach(v => ctx.fillText(String(v), 709, y1.getPixelForValue(v) + 1));
    ctx.fillText('(°C)', 20, 607);
    ctx.fillText('(mm)', 710, 608);
    DAY_LABELS.forEach((lab, i) => {
      const x = xs.getPixelForValue(i * 24);
      ctx.save();
      ctx.translate(x + 3, 632);
      ctx.rotate(-Math.PI / 2);
      ctx.textBaseline = 'top';
      ctx.fillText(lab, 0, 0);
      ctx.restore();
    });
    // legend
    ctx.fillStyle = '#ff0000'; ctx.fillRect(35, 635, 30, 4);
    ctx.fillStyle = '#0000ff'; ctx.fillRect(225, 635, 30, 4);
    ctx.fillStyle = '#000000'; ctx.fillRect(225, 646, 30, 4);
    ctx.fillText('Moyenne des scénarios', 75, 637);
    ctx.fillText('Run de contrôle', 265, 637);
    ctx.fillText('Run CEP/ECMWF', 265, 648);
    ctx.fillText('50 Perts.', 370, 653);
    // palette
    ctx.font = TINY;
    ctx.textAlign = 'center';
    for (let i = 0; i < 25; i++) {
      const cx = 430 + i * 11;
      ctx.fillStyle = PERT_COLORS[i];
      ctx.fillRect(cx, 645, 10, 6);
      ctx.fillStyle = PERT_COLORS[i + 25];
      ctx.fillRect(cx, 651, 10, 6);
      ctx.fillStyle = '#000';
      ctx.fillText(String(i + 1).padStart(2, '0'), cx + 5, 640.5);
      ctx.fillText(String(i + 26), cx + 5, 661.5);
    }
    // title box
    ctx.textAlign = 'left';
    ctx.strokeStyle = '#000';
    ctx.lineWidth = 1;
    ctx.strokeRect(20.5, 667.5, 420, 31);
    ctx.font = BOLD;
    ctx.fillText('Diagramme ensembles ECMWF/CEP 0.4° sur 360h pour Toulouse', 30, 677);
    ctx.fillText('Copyright 2022 Meteociel.fr - ECMWF', 450, 692);
    ctx.font = FONT;
    ctx.fillText('Températures 850hPa et 500hPa (°C) , précipitations (mm)', 30, 691);
    ctx.fillText('Ensemble ECMWF/CEP du 14/08/2022 - 00Z', 450, 676);
    ctx.restore();
  },
};

export default function App() {
  const ref = useRef<HTMLCanvasElement>(null);
  useEffect(() => {
    const datasets: any[] = [];
    const thick = (data: any[], color: string, w: number, axis: string) => ({
      data, borderColor: color, backgroundColor: color, borderWidth: w, pointRadius: 0, yAxisID: axis, fill: false,
    });
    // first dataset is drawn on top
    datasets.push(thick(pts(T850_MEAN, 6, 0), '#ff0000', 5, 'y'));
    datasets.push(thick(pts(T500_MEAN, 6, 0), '#ff0000', 5, 'y'));
    datasets.push(thick(pts(P_MEAN, 6, 6), '#ff0000', 5, 'y1'));
    datasets.push(thick(pts(T850_CEP, 6, 0), '#000000', 4, 'y'));
    datasets.push(thick(pts(T500_CEP, 6, 0), '#000000', 4, 'y'));
    datasets.push(thick(pts(P_CEP, 6, 6), '#000000', 4, 'y1'));
    datasets.push(thick(pts(T850_CTRL, 6, 0), '#0000ff', 4, 'y'));
    datasets.push(thick(pts(T500_CTRL, 6, 0), '#0000ff', 4, 'y'));
    datasets.push(thick(pts(P_CTRL, 6, 6), '#0000ff', 4, 'y1'));
    const member = (n: number, arr: number[], step: number, start: number, axis: string) => {
      const c = PERT_COLORS[n - 1];
      return {
        data: pts(arr, step, start), borderColor: c, backgroundColor: c, borderWidth: 1,
        pointStyle: 'cross', pointRadius: 2, pointBorderWidth: 1, pointBorderColor: c, yAxisID: axis, fill: false,
      };
    };
    T850_MEMBERS.forEach(([n, a]) => datasets.push(member(n, a, 12, 0, 'y')));
    T500_MEMBERS.forEach(([n, a]) => datasets.push(member(n, a, 12, 0, 'y')));
    PRECIP_MEMBERS.forEach(([n, a]) => datasets.push(member(n, a, 6, 6, 'y1')));

    const chart = new Chart(ref.current as HTMLCanvasElement, {
      type: 'line',
      data: { datasets },
      options: {
        responsive: false,
        maintainAspectRatio: false,
        animation: false,
        devicePixelRatio: 1,
        events: [],
        layout: { padding: { left: 50, right: 48, top: 0, bottom: 100 } },
        elements: { line: { tension: 0 } },
        plugins: { legend: { display: false }, tooltip: { enabled: false }, title: { display: false } },
        scales: {
          x: {
            type: 'linear', min: 0, max: 360,
            afterBuildTicks: (s: any) => { s.ticks = DAY_LABELS.map((_, i) => ({ value: i * 24 })); },
            ticks: { display: false },
            grid: { color: '#c0c0c0', lineWidth: 1, drawTicks: false },
            border: { display: true, color: '#000000', width: 1 },
          },
          y: {
            type: 'linear', min: -52.8, max: 33.0,
            afterBuildTicks: (s: any) => { s.ticks = LEFT_TICKS.map(v => ({ value: v })); },
            ticks: { display: false },
            grid: {
              drawTicks: false,
              color: (c: any) => (c.tick && c.tick.value === 0 ? '#a0a0a0' : '#c0c0c0'),
              lineWidth: (c: any) => (c.tick && c.tick.value === 0 ? 2.5 : c.tick && c.tick.value % 10 === 0 ? 2 : 1),
            },
            border: { display: false },
          },
          y1: { type: 'linear', display: false, min: -7.8, max: 78.0 },
        },
      },
      plugins: [textPlugin],
    } as any);
    return () => chart.destroy();
  }, []);
  return (
    <div style={{ position: 'absolute', left: 0, top: 0, width: 740, height: 700, background: '#fff' }}>
      <canvas ref={ref} width={740} height={700} style={{ display: 'block', width: 740, height: 700 }} />
    </div>
  );
}
